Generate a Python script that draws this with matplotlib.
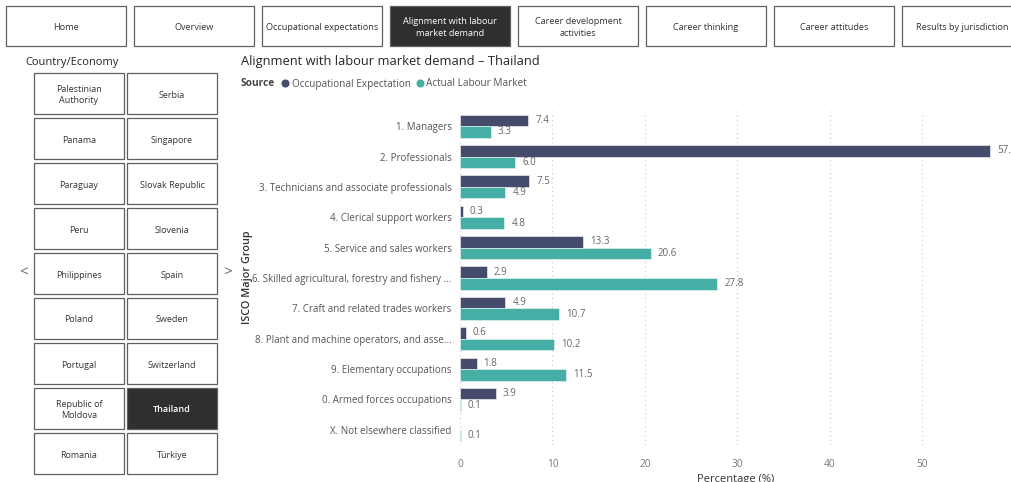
import numpy as np
import matplotlib.pyplot as plt
from matplotlib.patches import Rectangle
from matplotlib.lines import Line2D

plt.rcParams['font.family'] = ['Open Sans', 'DejaVu Sans']

W, H = 1012, 482

# ISCO groups and shares (%) for Thailand
categories = ['1. Managers', '2. Professionals', '3. Technicians and associate professionals',
              '4. Clerical support workers', '5. Service and sales workers',
              '6. Skilled agricultural, forestry and fishery ...',
              '7. Craft and related trades workers',
              '8. Plant and machine operators, and asse...',
              '9. Elementary occupations', '0. Armed forces occupations',
              'X. Not elsewhere classified']
occupational = [7.4, 57.3, 7.5, 0.3, 13.3, 2.9, 4.9, 0.6, 1.8, 3.9, np.nan]
labour_market = [3.3, 6.0, 4.9, 4.8, 20.6, 27.8, 10.7, 10.2, 11.5, 0.1, 0.1]
x_ticks = [0, 10, 20, 30, 40, 50]

nav_pages = ['Home', 'Overview', 'Occupational expectations',
             'Alignment with labour\nmarket demand', 'Career development\nactivities',
             'Career thinking', 'Career attitudes', 'Results by jurisdiction']
active_page = 'Alignment with labour\nmarket demand'
countries_left = ['Palestinian\nAuthority', 'Panama', 'Paraguay', 'Peru', 'Philippines',
                  'Poland', 'Portugal', 'Republic of\nMoldova', 'Romania']
countries_right = ['Serbia', 'Singapore', 'Slovak Republic', 'Slovenia', 'Spain',
                   'Sweden', 'Switzerland', 'Thailand', 'Türkiye']
selected = 'Thailand'

NAVY = '#454b6b'
TEAL = '#46afa5'


def fx(px):
    return px / W


def fy(py):
    return 1 - py / H


def button(fig, x0, y0, w, h, label, dark=False, fs=6.6):
    fig.patches.append(Rectangle((fx(x0), fy(y0 + h)), w / W, h / H,
                                 transform=fig.transFigure, facecolor='#2f2f2f' if dark else 'white',
                                 edgecolor='#5f5f5f', linewidth=0.9))
    fig.text(fx(x0 + w / 2), fy(y0 + h / 2 + 1.5), label, ha='center', va='center',
             fontsize=fs, color='white' if dark else '#333333',
             fontweight='semibold' if dark and '\n' not in label else 'normal',
             linespacing=1.35)


def dot(fig, px, py, color):
    fig.add_artist(Line2D([fx(px)], [fy(py)], marker='o', markersize=4.8, color=color,
                          linestyle='none', transform=fig.transFigure))


fig = plt.figure(figsize=(W / 100, H / 100), dpi=100)

# navigation bar
for i, page in enumerate(nav_pages):
    button(fig, 6 + i * 128, 6, 120, 40, page, dark=(page == active_page))

# country slicer
fig.text(fx(25), fy(63), 'Country/Economy', fontsize=8, color='#252525', va='center')
for r, (a, b) in enumerate(zip(countries_left, countries_right)):
    top = 73 + r * 45
    button(fig, 34, top, 90, 41, a, dark=(a == selected), fs=6.5)
    button(fig, 127, top, 90, 41, b, dark=(b == selected), fs=6.5)
fig.text(fx(24), fy(273), '<', fontsize=11, color='#666666', ha='center', va='center')
fig.text(fx(228), fy(273), '>', fontsize=11, color='#666666', ha='center', va='center')

# chart title and legend
fig.text(fx(241), fy(61), 'Alignment with labour market demand – Thailand',
         fontsize=9.3, color='#252525', va='center')
fig.text(fx(241), fy(84), 'Source', fontsize=7.3, fontweight='bold', color='#444444', va='center')
dot(fig, 285, 83, NAVY)
fig.text(fx(292), fy(84), 'Occupational Expectation', fontsize=7.2, color='#555555', va='center')
dot(fig, 420, 83, TEAL)
fig.text(fx(426), fy(84), 'Actual Labour Market', fontsize=7.2, color='#555555', va='center')

# bar chart
ax = fig.add_axes([fx(460), fy(445), (W - 460) / W, (445 - 111) / H])
y = np.arange(len(categories))
h = 0.38
ax.barh(y - h / 2, occupational, height=h, color=NAVY, edgecolor='#e8e8ee', linewidth=0.5)
ax.barh(y + h / 2, labour_market, height=h, color=TEAL, edgecolor='#e0f2f0', linewidth=0.5)
for yi, v in zip(y, occupational):
    if not np.isnan(v):
        ax.annotate(f'{v:.1f}', (v, yi - h / 2), xytext=(5, 0), textcoords='offset points',
                    va='center', fontsize=7, color='#666666', annotation_clip=False)
for yi, v in zip(y, labour_market):
    ax.annotate(f'{v:.1f}', (v, yi + h / 2), xytext=(5, 0), textcoords='offset points',
                va='center', fontsize=7, color='#666666', annotation_clip=False)

ax.set_xlim(0, (W - 460) / 9.25)
ax.set_ylim(len(categories) - 0.5, -0.5)
ax.set_yticks(y)
ax.set_yticklabels(categories, fontsize=7, color='#555555')
ax.set_xticks(x_ticks)
ax.set_xticklabels([str(t) for t in x_ticks], fontsize=7.3, color='#777777')
ax.tick_params(length=0, pad=6)
ax.tick_params(axis='x', pad=10)
ax.grid(axis='x', linestyle=(0, (1, 3)), color='#c8c8c8', linewidth=0.8)
ax.set_axisbelow(True)
for s in ax.spines.values():
    s.set_visible(False)
ax.set_xlabel('Percentage (%)', fontsize=8, color='#333333', labelpad=3)
fig.text(fx(248), fy(277), 'ISCO Major Group', rotation=90, fontsize=7.8,
         fontweight='semibold', color='#333333', ha='center', va='center')

fig.savefig('out.png', dpi=100)
